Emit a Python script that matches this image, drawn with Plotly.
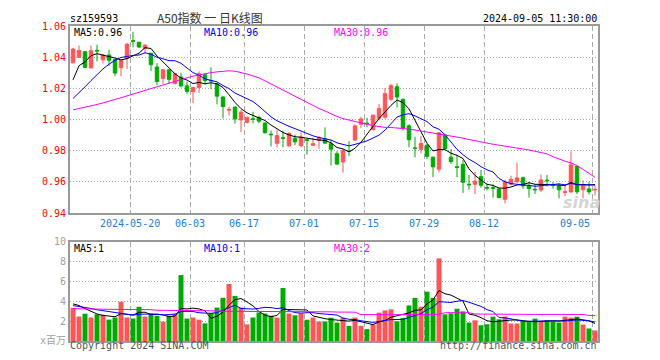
import plotly.graph_objects as go
import pandas as pd

# ---------------- data ----------------
opens = [1.0364, 1.0400, 1.0435, 1.0331, 1.0444, 1.0383, 1.0414, 1.0385, 1.0333, 1.0390,
         1.0506, 1.0496, 1.0456, 1.0425, 1.0337, 1.0264, 1.0319, 1.0231, 1.0273, 1.0216,
         1.0179, 1.0206, 1.0287, 1.0252, 1.0228, 1.0145, 1.0060, 1.0080, 0.9998, 0.9982,
         1.0005, 1.0014, 0.9978, 0.9906, 0.9848, 0.9883, 0.9832, 0.9879, 0.9832, 0.9870,
         0.9835, 0.9867, 0.9877, 0.9845, 0.9781, 0.9728, 0.9798, 0.9869, 0.9970, 0.9977,
         0.9936, 1.0008, 1.0015, 1.0130, 1.0210, 1.0130, 0.9960, 0.9818, 0.9809, 0.9836,
         0.9759, 0.9682, 0.9902, 0.9759, 0.9697, 0.9712, 0.9585, 0.9585, 0.9634, 0.9564,
         0.9564, 0.9555, 0.9489, 0.9585, 0.9602, 0.9627, 0.9575, 0.9553, 0.9549, 0.9611,
         0.9582, 0.9575, 0.9533, 0.9536, 0.9700, 0.9550, 0.9555, 0.9549]
highs = [1.0460, 1.0475, 1.0440, 1.0475, 1.0481, 1.0420, 1.0448, 1.0390, 1.0380, 1.0492,
         1.0563, 1.0498, 1.0483, 1.0428, 1.0362, 1.0322, 1.0322, 1.0300, 1.0300, 1.0244,
         1.0210, 1.0310, 1.0300, 1.0335, 1.0233, 1.0150, 1.0082, 1.0082, 1.0061, 1.0018,
         1.0050, 1.0025, 0.9980, 0.9930, 0.9935, 0.9930, 0.9918, 0.9904, 0.9918, 0.9877,
         0.9885, 0.9895, 0.9950, 0.9870, 0.9797, 0.9812, 0.9862, 0.9970, 1.0018, 1.0012,
         1.0032, 1.0100, 1.0202, 1.0230, 1.0232, 1.0135, 0.9968, 0.9890, 0.9895, 0.9840,
         0.9762, 0.9920, 0.9906, 0.9810, 0.9775, 0.9740, 0.9645, 0.9665, 0.9677, 0.9590,
         0.9585, 0.9560, 0.9615, 0.9640, 0.9725, 0.9635, 0.9600, 0.9585, 0.9648, 0.9645,
         0.9600, 0.9590, 0.9580, 0.9796, 0.9702, 0.9610, 0.9600, 0.9580]
lows = [1.0360, 1.0395, 1.0332, 1.0330, 1.0373, 1.0360, 1.0344, 1.0280, 1.0278, 1.0325,
        1.0463, 1.0460, 1.0425, 1.0310, 1.0220, 1.0227, 1.0228, 1.0225, 1.0206, 1.0164,
        1.0106, 1.0170, 1.0225, 1.0195, 1.0098, 1.0008, 1.0025, 0.9973, 0.9920, 0.9975,
        0.9975, 0.9975, 0.9910, 0.9827, 0.9822, 0.9822, 0.9825, 0.9836, 0.9822, 0.9775,
        0.9830, 0.9812, 0.9843, 0.9705, 0.9708, 0.9660, 0.9765, 0.9862, 0.9945, 0.9950,
        0.9930, 0.9995, 1.0005, 1.0120, 1.0078, 0.9928, 0.9822, 0.9758, 0.9785, 0.9746,
        0.9632, 0.9662, 0.9810, 0.9716, 0.9630, 0.9530, 0.9550, 0.9522, 0.9563, 0.9545,
        0.9500, 0.9495, 0.9462, 0.9578, 0.9593, 0.9555, 0.9500, 0.9523, 0.9535, 0.9570,
        0.9556, 0.9495, 0.9508, 0.9530, 0.9522, 0.9495, 0.9520, 0.9513]
closes = [1.0452, 1.0443, 1.0335, 1.0441, 1.0440, 1.0414, 1.0381, 1.0298, 1.0379, 1.0483,
          1.0502, 1.0465, 1.0477, 1.0352, 1.0244, 1.0319, 1.0258, 1.0294, 1.0216, 1.0181,
          1.0206, 1.0294, 1.0250, 1.0248, 1.0150, 1.0084, 1.0065, 1.0004, 1.0047, 1.0014,
          1.0002, 0.9990, 0.9916, 0.9903, 0.9897, 0.9880, 0.9912, 0.9857, 0.9888, 0.9867,
          0.9845, 0.9884, 0.9849, 0.9810, 0.9715, 0.9800, 0.9795, 0.9959, 1.0004, 0.9974,
          1.0028, 1.0070, 1.0166, 1.0217, 1.0145, 0.9945, 0.9871, 0.9815, 0.9846, 0.9764,
          0.9697, 0.9915, 0.9814, 0.9731, 0.9694, 0.9598, 0.9582, 0.9605, 0.9579, 0.9561,
          0.9560, 0.9500, 0.9600, 0.9617, 0.9626, 0.9575, 0.9557, 0.9550, 0.9613, 0.9608,
          0.9579, 0.9550, 0.9537, 0.9710, 0.9537, 0.9583, 0.9537, 0.9552]
volumes = [3.35, 2.47, 2.75, 2.37, 2.69, 2.64, 2.16, 2.37, 3.96, 2.37,
           2.27, 3.45, 2.47, 2.77, 2.55, 1.96, 2.55, 2.74, 6.65, 2.27,
           2.37, 2.15, 1.78, 2.84, 3.37, 4.36, 5.75, 4.55, 3.37, 1.68,
           2.37, 2.88, 2.77, 2.55, 2.37, 5.35, 2.77, 2.59, 2.79, 2.15,
           2.37, 1.97, 1.97, 2.35, 1.86, 2.33, 1.53, 2.36, 1.53, 1.20,
           1.66, 2.86, 3.09, 3.19, 1.99, 2.33, 3.59, 4.35, 3.46, 4.98,
           4.35, 8.34, 2.69, 2.79, 3.26, 2.99, 1.86, 2.09, 1.59, 1.69,
           2.46, 2.19, 2.46, 1.76, 1.76, 1.99, 1.93, 2.26, 1.93, 2.09,
           1.99, 1.86, 2.46, 2.36, 2.46, 1.66, 1.26, 1.06]
ma30_price = [1.0062, 1.0070, 1.0079, 1.0088, 1.0097, 1.0107, 1.0117, 1.0128, 1.0140, 1.0152,
              1.0164, 1.0175, 1.0187, 1.0200, 1.0212, 1.0224, 1.0236, 1.0247, 1.0258, 1.0268,
              1.0278, 1.0287, 1.0295, 1.0301, 1.0306, 1.0310, 1.0313, 1.0310, 1.0303, 1.0292,
              1.0280, 1.0267, 1.0248, 1.0228, 1.0208, 1.0188, 1.0166, 1.0146, 1.0126, 1.0106,
              1.0088, 1.0071, 1.0055, 1.0036, 1.0020, 1.0006, 0.9996, 0.9988, 0.9980, 0.9970,
              0.9961, 0.9954, 0.9950, 0.9949, 0.9947, 0.9943, 0.9939, 0.9933, 0.9927, 0.9920,
              0.9914, 0.9908, 0.9902, 0.9896, 0.9889, 0.9881, 0.9872, 0.9863, 0.9855, 0.9849,
              0.9842, 0.9835, 0.9829, 0.9823, 0.9817, 0.9811, 0.9805, 0.9798, 0.9791, 0.9780,
              0.9762, 0.9746, 0.9733, 0.9722, 0.9705, 0.9680, 0.9655, 0.9630]
ma5_head = [1.0255, 1.0345, 1.0370, 1.0410]
ma10_head = [1.0135, 1.0170, 1.0210, 1.0250, 1.0290, 1.0325, 1.0355, 1.0380, 1.0398]
vol_ma5_head = [3.75, 3.58, 3.27, 2.98]
vol_ma10_head = [3.58, 3.50, 3.40, 3.28, 3.15, 3.05, 2.97, 2.88, 2.80]
vol_ma30 = [3.26, 3.26, 3.25, 3.25, 3.24, 3.23, 3.19, 3.19, 3.18, 3.18,
            3.18, 3.17, 3.17, 3.16, 3.10, 3.10, 3.09, 3.09, 3.06, 3.06,
            3.06, 3.05, 3.05, 3.05, 3.04, 3.00, 3.00, 3.00, 2.99, 2.99,
            2.99, 2.98, 2.98, 2.98, 2.97, 2.96, 2.96, 2.96, 2.95, 2.95,
            2.95, 2.94, 2.94, 2.94, 2.92, 2.92, 2.91, 2.91, 2.66, 2.66,
            2.65, 2.65, 2.64, 2.64, 2.60, 2.60, 2.59, 2.59, 2.59, 2.60,
            2.66, 2.70, 2.85, 2.86, 2.86, 2.86, 2.85, 2.72, 2.71, 2.70,
            2.70, 2.68, 2.68, 2.68, 2.68, 2.68, 2.68, 2.68, 2.68, 2.68,
            2.68, 2.68, 2.68, 2.68, 2.68, 2.68, 2.58, 2.56]
tick_idx = [10, 20, 29, 39, 49, 59, 69, 87]
tick_labels = ['2024-05-20', '06-03', '06-17', '07-01', '07-15', '07-29', '08-12', '09-05']
price_ticks = [0.94, 0.96, 0.98, 1.00, 1.02, 1.04, 1.06]
vol_ticks = [0, 2, 4, 6, 8, 10]
vol_tick_text = ['x百万', '2', '4', '6', '8', '10']


def moving_avg(vals, n, head):
    s = pd.Series(vals).rolling(n).mean().tolist()
    return list(head) + s[len(head):]


ma5 = moving_avg(closes, 5, ma5_head)
ma10 = moving_avg(closes, 10, ma10_head)
vma5 = moving_avg(volumes, 5, vol_ma5_head)
vma10 = moving_avg(volumes, 10, vol_ma10_head)
x = list(range(len(closes)))

RED = '#ff5555'
GREEN = '#00aa00'
MONO = 'DejaVu Sans Mono, Noto Sans CJK SC'
OFF = 8                     # the page body adds an 8px margin
W, H = 660 - OFF, 360 - OFF
ML, MR, MT, MB = 70 - OFF, 62, 20 - OFF, 19


def px(p):
    return (p - OFF - ML) / (W - ML - MR)


def py(p):
    return (H - MB - (p - OFF)) / (H - MT - MB)


bar_colors = [RED if c >= o else GREEN for o, c in zip(opens, closes)]

fig = go.Figure()
fig.add_trace(go.Candlestick(
    x=x, open=opens, high=highs, low=lows, close=closes,
    increasing=dict(line=dict(color=RED, width=1), fillcolor=RED),
    decreasing=dict(line=dict(color=GREEN, width=1), fillcolor=GREEN),
    whiskerwidth=0, xaxis='x', yaxis='y', hoverinfo='skip', showlegend=False))
for vals, col in [(ma5, 'black'), (ma10, '#0000ff'), (ma30_price, '#ff00ff')]:
    fig.add_trace(go.Scatter(x=x, y=vals, mode='lines', line=dict(color=col, width=1),
                             xaxis='x', yaxis='y', hoverinfo='skip', showlegend=False))
fig.add_trace(go.Bar(x=x, y=volumes, marker=dict(color=bar_colors, line=dict(width=0)),
                     width=0.83, xaxis='x2', yaxis='y2', hoverinfo='skip', showlegend=False))
for vals, col in [(vma5, 'black'), (vma10, '#0000ff'), (vol_ma30, '#ff00ff')]:
    fig.add_trace(go.Scatter(x=x, y=vals, mode='lines', line=dict(color=col, width=1),
                             xaxis='x2', yaxis='y2', hoverinfo='skip', showlegend=False))

grid_x = [i - 0.5 for i in tick_idx]
axis_common = dict(showline=True, mirror=True, linecolor='#999999', linewidth=2,
                   zeroline=False, fixedrange=True)
xcommon = dict(range=[-0.5, len(x) - 0.5], tickvals=grid_x, showticklabels=False,
               showgrid=True, gridcolor='#aaaaaa', griddash='5px,3px', gridwidth=1, ticks='',
               **axis_common)

fig.update_layout(
    width=W, height=H, margin=dict(l=ML, r=MR, t=MT, b=MB),
    paper_bgcolor='white', plot_bgcolor='white', showlegend=False, boxgap=0.17,
    xaxis=dict(domain=[0, 1], anchor='y', rangeslider=dict(visible=False), **xcommon),
    xaxis2=dict(domain=[0, 1], anchor='y2', matches='x', **xcommon),
    yaxis=dict(domain=[py(210.7), 1], range=[0.94, 1.06], tickvals=price_ticks,
               ticktext=['%.2f' % v for v in price_ticks], tickfont=dict(family=MONO, size=10, color='#ff0000'),
               showgrid=True, gridcolor='#aaaaaa', griddash='1px,2px', ticks='', **axis_common),
    yaxis2=dict(domain=[0, py(240)], range=[0, 10], tickvals=vol_ticks, ticktext=vol_tick_text,
                tickfont=dict(family=MONO, size=10, color='#a0a0a0'),
                showgrid=True, gridcolor='#aaaaaa', griddash='1px,2px', ticks='', **axis_common),
)

ann = []


def text(t, xp, yp, color, anchor='left', size=10, family=MONO, **kw):
    ann.append(dict(text=t, x=px(xp), y=py(yp), xref='paper', yref='paper', showarrow=False,
                    xanchor=anchor, yanchor='middle', borderpad=0,
                    font=dict(family=family, size=size, color=color), **kw))


text('sz159593', 69, 12, '#000000')
text('A50指数 一 日K线图', 210, 11.5, '#333333', anchor='center', size=12,
     family='Noto Sans CJK SC, DejaVu Sans Mono')
text('2024-09-05 11:30:00', 598, 12, '#000000', anchor='right')
text('MA5:0.96', 73, 27, '#000000')
text('MA10:0.96', 203, 27, '#0000ff')
text('MA30:0.96', 333, 27, '#ff00ff')
text('MA5:1', 73, 247, '#000000')
text('MA10:1', 203, 247, '#0000ff')
text('MA30:2', 333, 247, '#ff00ff')
text('Copyright 2024 SINA.COM', 69, 346, '#555555')
text('http://finance.sina.com.cn', 598, 346, '#555555', anchor='right')
for i, lab in zip(tick_idx, tick_labels):
    ann.append(dict(text=lab, x=i - 0.5, xref='x', y=py(221.5), yref='paper', showarrow=False,
                    xanchor='right' if i == tick_idx[-1] else 'center', yanchor='middle',
                    font=dict(family=MONO, size=10, color='#1a80d8')))
ann.append(dict(text='<b><i>sina</i></b>', x=px(581), y=py(200), xref='paper', yref='paper',
                showarrow=False, xanchor='center', yanchor='middle',
                font=dict(family='DejaVu Sans', size=16, color='#d4d4d4')))
fig.update_layout(annotations=ann)

fig.write_html('out.html')
